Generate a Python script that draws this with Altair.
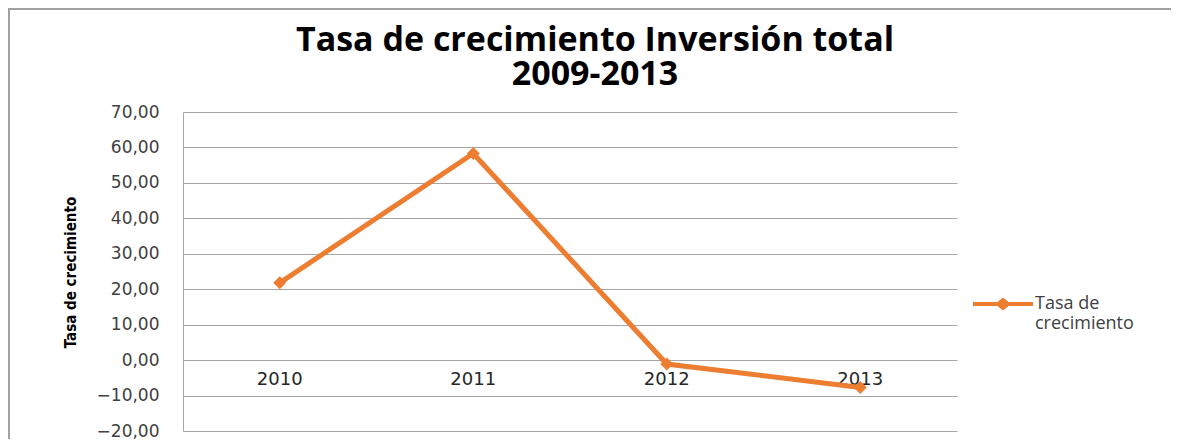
import altair as alt
import pandas as pd

years = ["2010", "2011", "2012", "2013"]
values = [21.8, 58.3, -1.1, -7.7]
series = ["Tasa de crecimiento"] * 4
y_ticks = [-20, -10, 0, 10, 20, 30, 40, 50, 60, 70]

df = pd.DataFrame({"year": years, "value": values, "serie": series})
zero = pd.DataFrame({"year": years, "value": [0] * 4})

ORANGE = "#ED7D31"
GRID = "#A6A6A6"

x_enc = alt.X("year:N", sort=years, axis=None,
              scale=alt.Scale(type="point", padding=0.5))
y_scale = alt.Scale(domain=[-20, 70], nice=False, zero=False)
y_axis = alt.Axis(values=y_ticks, labelExpr="replace(format(datum.value, '.2f'), '.', ',')",
                  title="Tasa de crecimiento", titleFont="DejaVu Sans Condensed",
                  titleFontSize=15, titleFontWeight="bold", titleColor="#000000",
                  titleAngle=-90, titleX=-113, titleY=160, titleAlign="center",
                  titleBaseline="middle",
                  labelFont="DejaVu Sans", labelFontSize=17, labelColor="#404040",
                  labelPadding=24, ticks=False, domain=True, domainColor=GRID,
                  grid=True, gridColor=GRID, gridWidth=1.2)
y_enc = alt.Y("value:Q", scale=y_scale, axis=y_axis, title="Tasa de crecimiento")

base = alt.Chart(df)

line = base.mark_line(color=ORANGE, strokeWidth=5, strokeJoin="miter").encode(
    x=x_enc,
    y=y_enc,
    color=alt.Color("serie:N", scale=alt.Scale(domain=["Tasa de crecimiento"], range=[ORANGE]),
                    legend=alt.Legend(title=None, orient="none", legendX=788, legendY=160,
                                      symbolType="M-1,0L1,0M-0.16,0L0,-0.13L0.16,0L0,0.13Z",
                                      symbolSize=3600, symbolStrokeWidth=4,
                                      symbolFillColor=ORANGE, symbolStrokeColor=ORANGE,
                                      labelExpr="['Tasa de', 'crecimiento']",
                                      labelFont="Open Sans", labelFontSize=18,
                                      labelColor="#404040", labelOffset=0,
                                      labelBaseline="middle", padding=0, labelLimit=300)),
)

points = base.mark_point(shape="diamond", filled=True, size=170, color=ORANGE, opacity=1).encode(
    x=x_enc, y=y_enc
)

labels = alt.Chart(zero).mark_text(font="DejaVu Sans", fontSize=18, color="#262626",
                                   dy=20, baseline="middle").encode(
    x=x_enc, y=y_enc, text="year:N"
)

border_top = alt.Chart(zero).mark_rule(color="#A0A0A0", strokeWidth=1.5).encode(
    x=alt.value(-175), x2=alt.value(990), y=alt.value(-103)
)
border_left = alt.Chart(zero).mark_rule(color="#A0A0A0", strokeWidth=1.5).encode(
    x=alt.value(-174), y=alt.value(-103), y2=alt.value(330)
)

chart = alt.layer(border_top, border_left, labels, line, points).properties(
    width=774, height=319,
    background="white",
    title=alt.TitleParams(["Tasa de crecimiento Inversión total", "2009-2013"],
                          font="Open Sans", fontSize=34, fontWeight="bold", color="#000000",
                          anchor="middle", dx=25, offset=-84, lineHeight=34),
    autosize=alt.AutoSizeParams(type="none"),
    padding={"left": 175, "top": 104, "right": 214, "bottom": 8},
).configure_view(stroke=None)

chart.save("out.html", embed_options={"renderer": "svg", "actions": False})
